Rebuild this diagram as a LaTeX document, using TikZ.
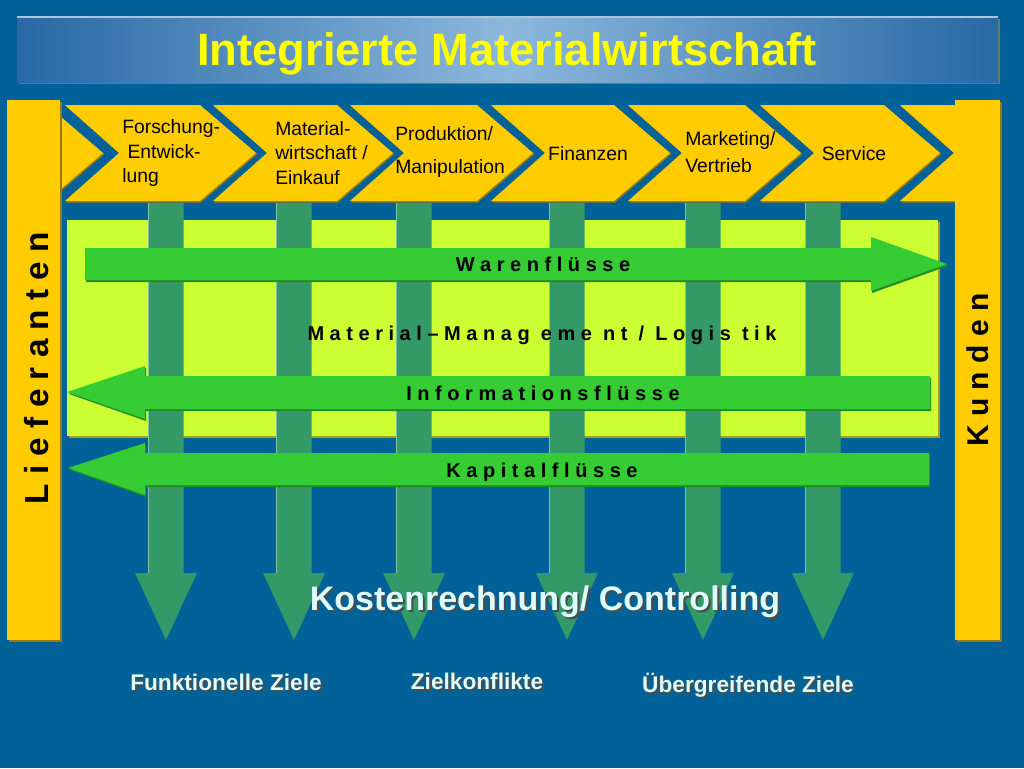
\documentclass[tikz,border=0pt]{standalone}
\usepackage{fontspec}
\setmainfont{Liberation Sans}
\usetikzlibrary{positioning}

\definecolor{bgblue}{RGB}{0,98,152}
\definecolor{titleedge}{RGB}{40,104,164}
\definecolor{titlemid}{RGB}{140,184,220}
\definecolor{titletext}{RGB}{255,255,0}
\definecolor{chevyellow}{RGB}{255,204,0}
\definecolor{chevshadow}{RGB}{150,120,20}
\definecolor{limebox}{RGB}{204,255,51}
\definecolor{colgreen}{RGB}{51,153,102}
\definecolor{flowgreen}{RGB}{54,204,51}
\definecolor{flowshadow}{RGB}{35,140,40}
\definecolor{labelcyan}{RGB}{222,255,255}

% text with a dark drop shadow
\newcommand{\shadowtext}[1]{\rlap{\hspace{1.5pt}\raisebox{-1.5pt}{\textcolor{black!70}{#1}}}#1}

\begin{document}
\begin{tikzpicture}[
		x=0.75pt, y=-0.75pt,
		chevlabel/.style={inner sep=0pt, font=\fontsize{14.5}{18.4}\selectfont, text=black},
		flowlabel/.style={inner sep=0pt, anchor=base, font=\bfseries\fontsize{15}{18}\selectfont, text=black},
		sidelabel/.style={inner sep=0pt, anchor=base, rotate=90, text=black},
		goal/.style={inner sep=0pt, anchor=base, font=\bfseries\fontsize{17}{20}\selectfont, text=labelcyan}
		]
		% Background
		\useasboundingbox (0,0) rectangle (1024,768);
		\fill[bgblue] (0,0) rectangle (1024,768);

		% Title bar
		\fill[black!55] (19,19) rectangle (1000,84);
		\shade[left color=titleedge, right color=titleedge, middle color=titlemid] (17,17) rectangle (998,82);
		\draw[titlemid!80!white, line width=1.5pt] (17,17) -- (998,17);
		\node[inner sep=0pt, anchor=base, font=\bfseries\fontsize{34}{40}\selectfont, text=titletext] (title) at (507,65) {Integrierte Materialwirtschaft};

		% Material-Management area
		\fill[chevshadow!70!limebox] (69,222) rectangle (940,438);
		\fill[limebox] (67,220) rectangle (938,436);

		% Vertical arrows
		\foreach \c in {166,294,414,567,703,823} {
			\fill[colgreen] ({\c-17.5},203) -- ({\c+17.5},203) -- ({\c+17.5},573) -- ({\c+31},573)
				-- (\c,640) -- ({\c-31},573) -- ({\c-17.5},573) -- cycle;
			\draw[colgreen!60!white, line width=0.6pt] ({\c-17.5},573) -- ({\c-17.5},203);
		}

		% Horizontal flows
		\fill[flowshadow] (86,250) -- (872,250) -- (872,239) -- (948,266) -- (872,293) -- (872,282) -- (86,282) -- cycle;
		\fill[flowgreen] (85,248) -- (871,248) -- (871,237) -- (947,264) -- (871,291) -- (871,280) -- (85,280) -- cycle;
		\fill[flowshadow] (931,378) -- (146,378) -- (146,368) -- (69,394) -- (146,421) -- (146,411) -- (931,411) -- cycle;
		\fill[flowgreen] (930,376) -- (145,376) -- (145,366) -- (67,392) -- (145,419) -- (145,409) -- (930,409) -- cycle;
		\fill[flowshadow] (930,455) -- (146,455) -- (146,445) -- (70,470) -- (146,497) -- (146,487) -- (930,487) -- cycle;
		\fill[flowgreen] (929,453) -- (145,453) -- (145,443) -- (68,468) -- (145,495) -- (145,485) -- (929,485) -- cycle;

		\node[flowlabel] (waren) at (543,271) {W a r e n f l ü s s e};
		\node[flowlabel] (mm) at (542,340) {M a t e r i a l – M a n a g~ e m e~ n t~ /~ L o g i s~ t i k};
		\node[flowlabel] (info) at (543,400) {I n f o r m a t i o n s f l ü s s e};
		\node[flowlabel] (kapital) at (542,477) {K a p i t a l f l ü s s e};

		% Chevrons
		\begin{scope}
			\clip (60,95) rectangle (955,210);
			\foreach \n/\t in {-50/105, 117/258, 265/395, 402/535, 543/672, 680/803, 812/942, 952/1100} {
				\fill[chevshadow] ({\n-51},106.5) -- ({\t-57},106.5) -- ({\t-0.5},154) -- ({\t-57},202.5) -- ({\n-51},202.5) -- ({\n+3.5},154) -- cycle;
				\fill[chevyellow] ({\n-52},105) -- ({\t-58},105) -- ({\t-2},153) -- ({\t-58},201) -- ({\n-52},201) -- ({\n+2},153) -- cycle;
			}
		\end{scope}
		\node[chevlabel, anchor=west, align=left] (forschung) at (122,153) {Forschung-\\\hspace{4pt}Entwick-\\lung};
		\node[chevlabel, anchor=west, align=left] (material) at (275,153) {Material-\\wirtschaft /\\Einkauf};
		\node[chevlabel, anchor=west, align=left] (produktion) at (395,152) {Produktion/\\[6pt]Manipulation};
		\node[chevlabel] (finanzen) at (588,154) {Finanzen};
		\node[chevlabel, anchor=west, align=left] (marketing) at (685,152) {Marketing/\\[1.5pt]Vertrieb};
		\node[chevlabel] (service) at (854,154) {Service};

		% Suppliers and customers
		\fill[chevshadow] (9,102) rectangle (62,642);
		\fill[chevyellow] (7,100) rectangle (60,640);
		\node[sidelabel, font=\bfseries\fontsize{25}{30}\selectfont] (lieferanten) at (48,368) {L i e f e r a n t e n};
		\fill[chevshadow] (957,102) rectangle (1002,642);
		\fill[chevyellow] (955,100) rectangle (1000,640);
		\node[sidelabel, font=\bfseries\fontsize{22.5}{27}\selectfont] (kunden) at (988,370) {K u n d e n};

		% Controlling and goals
		\node[goal, font=\bfseries\fontsize{25.5}{30}\selectfont] (kosten) at (545,610) {\shadowtext{Kostenrechnung/ Controlling}};
		\node[goal] (funktionell) at (226,690) {\shadowtext{Funktionelle Ziele}};
		\node[goal] (zielkonflikte) at (477,689) {\shadowtext{Zielkonflikte}};
		\node[goal] (uebergreifend) at (748,692) {\shadowtext{Übergreifende Ziele}};
\end{tikzpicture}
\end{document}
